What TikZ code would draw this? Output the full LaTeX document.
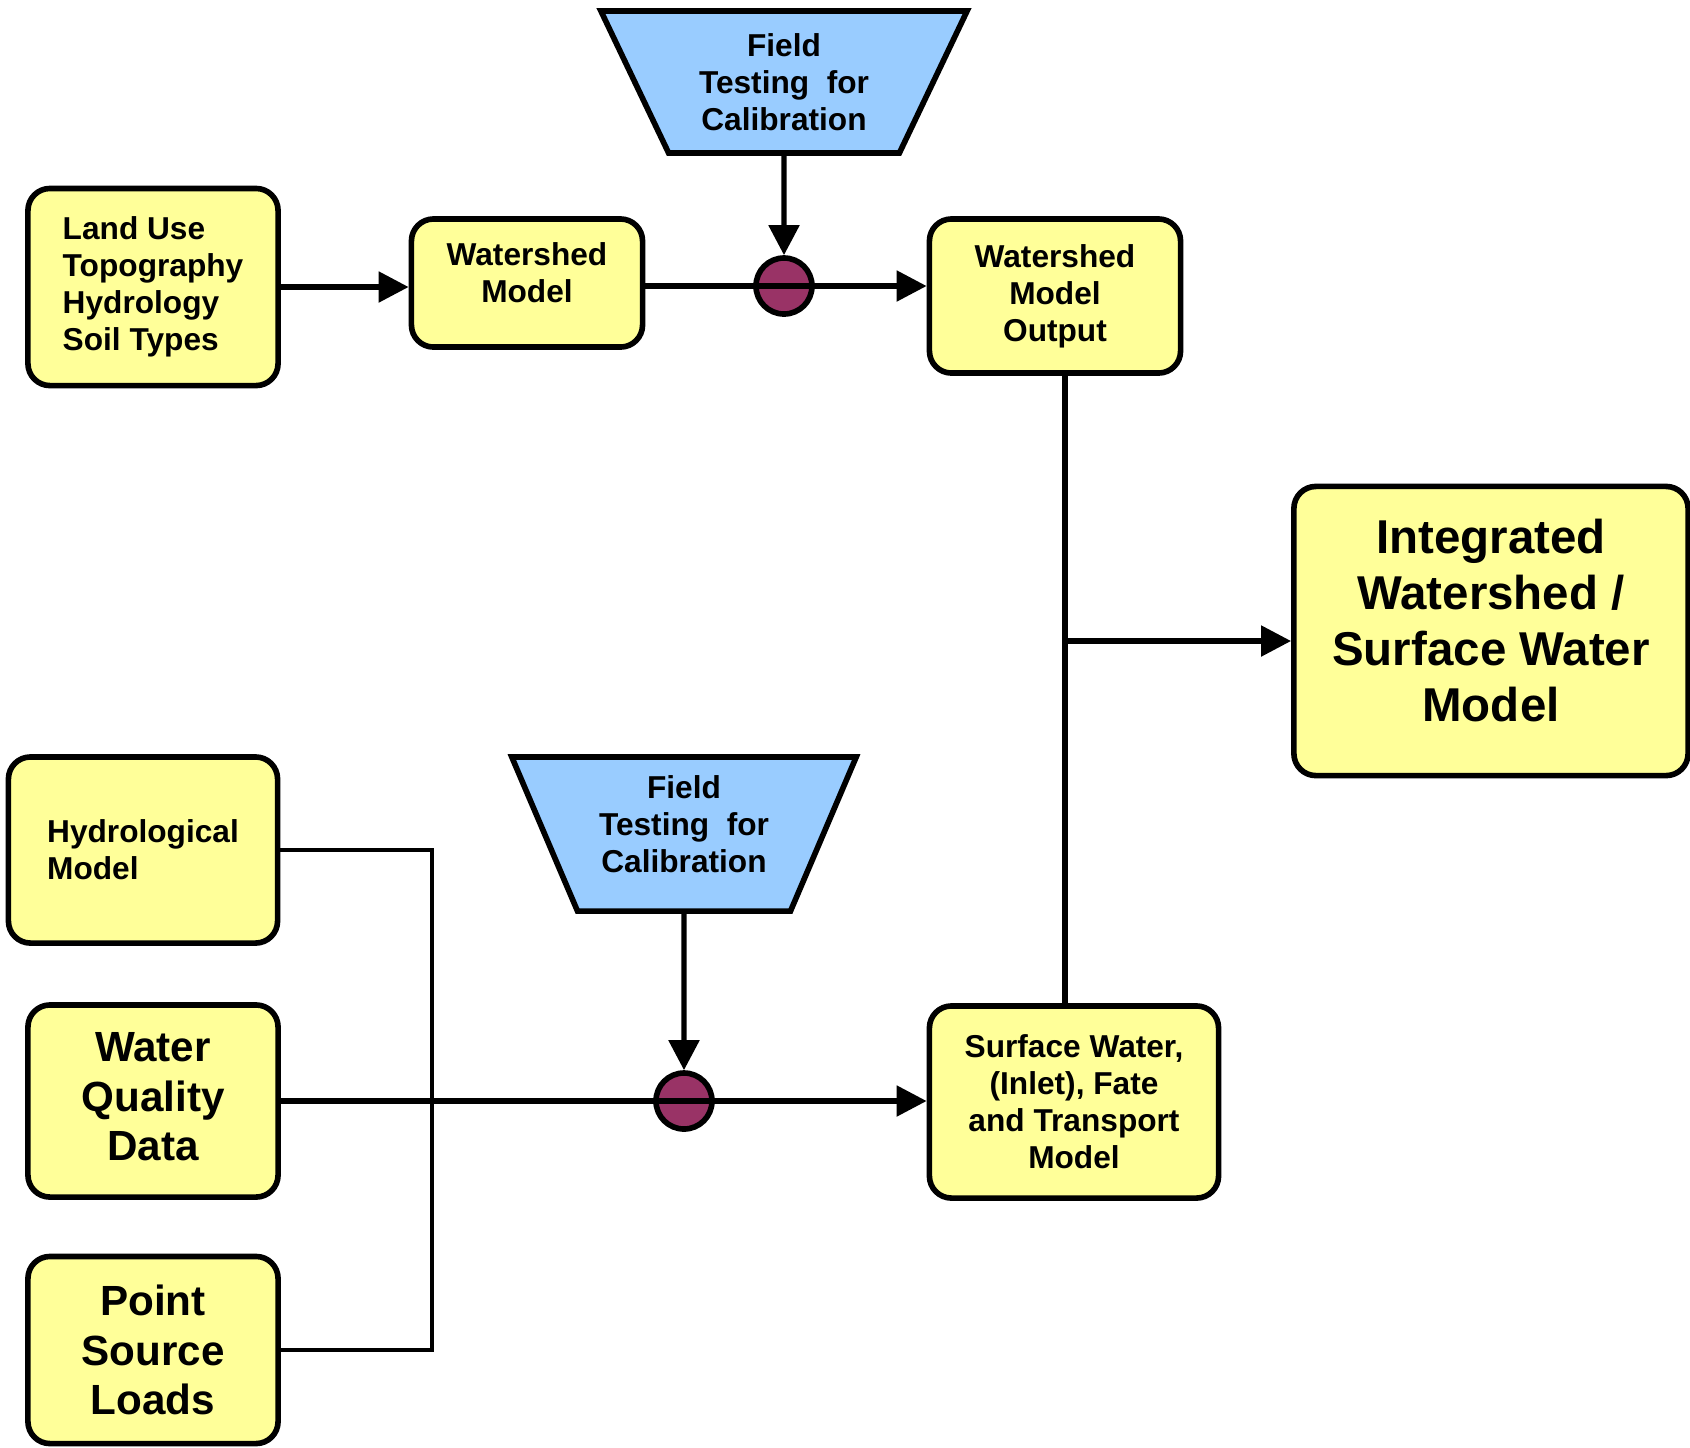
\documentclass[tikz,border=0pt]{standalone}
\usepackage{fontspec}
\setmainfont{Liberation Sans}
\usetikzlibrary{arrows.meta,positioning,shapes.geometric}
\definecolor{boxyellow}{RGB}{255,255,153}
\definecolor{funnelblue}{RGB}{153,204,255}
\definecolor{junctionred}{RGB}{153,51,102}
\tikzset{
  box/.style={draw,line width=1.6pt,rounded corners=0.22cm,fill=boxyellow,align=center,inner sep=0pt,
    font=\fontsize{9}{10.5}\selectfont\bfseries},
  bigbox/.style={box,font=\fontsize{12}{14.1}\selectfont\bfseries},
  funnel/.style={draw,line width=1.6pt,fill=funnelblue,trapezium,shape border rotate=180,
    trapezium stretches=true,align=center,inner sep=0pt,font=\fontsize{9}{10.5}\selectfont\bfseries},
  junction/.style={circle,draw,line width=1.6pt,fill=junctionred,minimum size=0.56cm,inner sep=0pt},
  wire/.style={line width=1.5pt},
  arr/.style={wire,-{Triangle[length=0.3cm,width=0.3cm]}}
}
\begin{document}
\begin{tikzpicture}[x=0.01cm,y=-0.01cm]
  \useasboundingbox (0,0) rectangle (1690,1447);

  % watershed part
  \node[box,align=left,minimum width=2.5cm,minimum height=1.97cm] (lu) at (153,287)
    {Land Use\\Topography\\Hydrology\\Soil Types};
  \node[box,minimum width=2.31cm,minimum height=1.28cm] (wm) at (527,283) {Watershed\\Model\\[-4.8pt]};
  \node[funnel,trapezium angle=62.8,minimum width=3.67cm,minimum height=1.42cm] (ft1) at (784,82)
    {Field\\Testing\ \ for\\Calibration};
  \node[junction] (c1) at (784,286) {};
  \node[box,minimum width=2.51cm,minimum height=1.54cm] (wmo) at (1055,296)
    {Watershed\\Model\\Output};

  % surface water part
  \node[box,align=left,minimum width=2.69cm,minimum height=1.86cm] (hm) at (143,850)
    {Hydrological\\Model};
  \node[bigbox,minimum width=2.5cm,minimum height=1.92cm] (wq) at (153,1101)
    {Water\\Quality\\Data\\[-11.6pt]};
  \node[bigbox,minimum width=2.5cm,minimum height=1.87cm] (ps) at (153,1350)
    {Point\\Source\\Loads};
  \node[funnel,trapezium angle=65.7,minimum width=3.47cm,minimum height=1.54cm] (ft2) at (684,834)
    {Field\\Testing\ \ for\\Calibration\\[-5pt]};
  \node[junction] (c2) at (684,1101) {};
  \node[box,minimum width=2.89cm,minimum height=1.92cm] (sw) at (1074,1102)
    {Surface Water,\\(Inlet), Fate\\and Transport\\Model};

  \node[box,minimum width=3.94cm,minimum height=2.89cm,font=\fontsize{13.5}{15.9}\selectfont\bfseries] (iwm) at (1491,631)
    {Integrated\\Watershed /\\Surface Water\\Model\\[-9.8pt]};

  \coordinate (bus) at (432,850);
  \coordinate (jn) at (1065,641);

  % connectors
  \draw[arr] (lu.east) -- (lu.east -| wm.west);
  \draw[arr] (ft1.south) -- (c1.north);
  \draw[arr] (wm.east |- c1) -- (c1 -| wmo.west);
  \draw[wire] (wmo.south -| jn) -- (sw.north -| jn);
  \draw[arr] (jn) -- (jn -| iwm.west);

  \draw[wire,line width=1.2pt] (hm.east) -- (hm.east -| bus) -- (ps.east -| bus) -- (ps.east);
  \draw[arr] (ft2.south) -- (c2.north);
  \draw[arr] (wq.east) -- (wq.east -| sw.west);
\end{tikzpicture}
\end{document}
